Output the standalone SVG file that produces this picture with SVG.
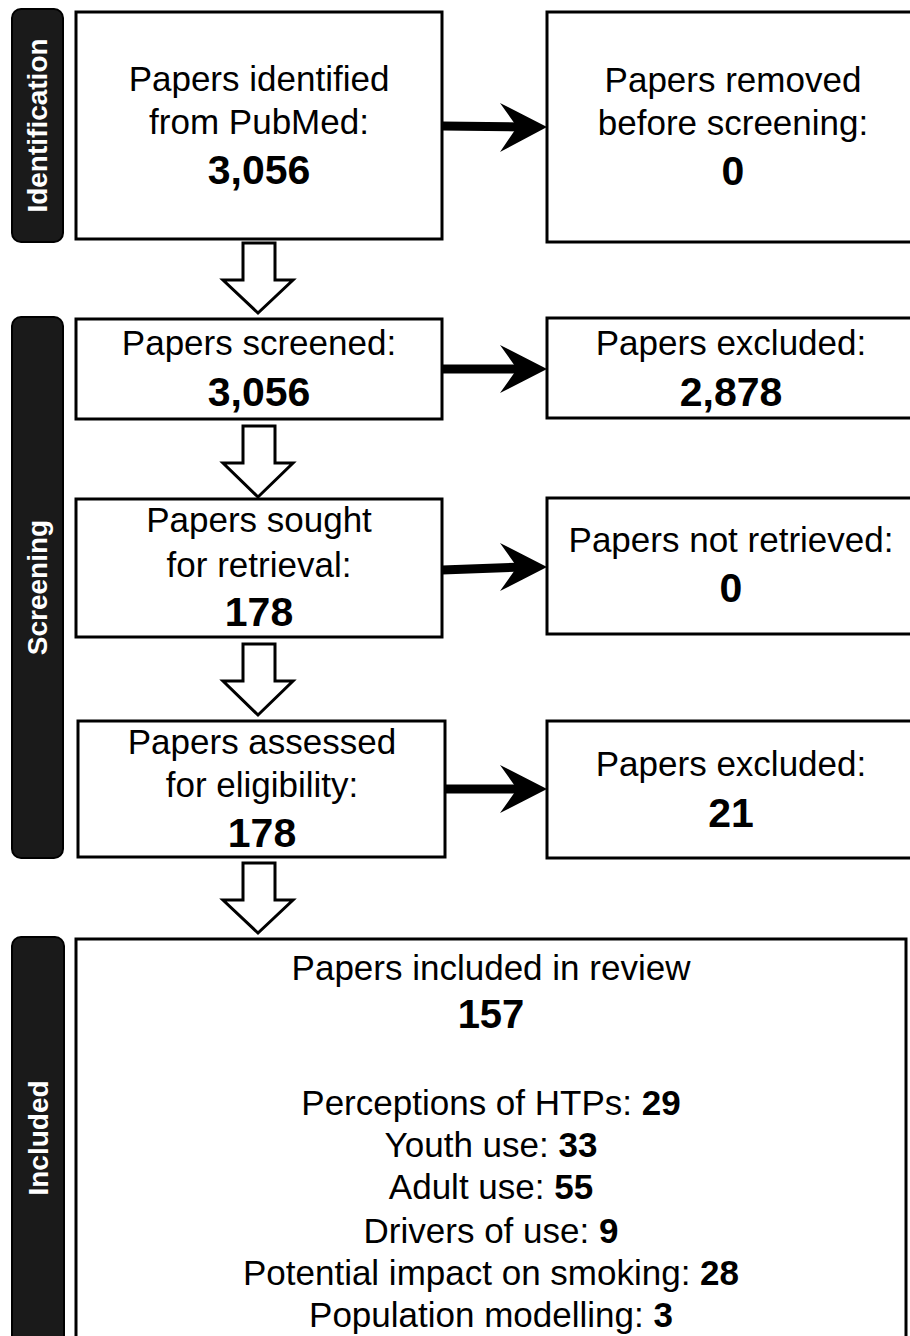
<svg xmlns="http://www.w3.org/2000/svg" width="910" height="1336" viewBox="0 0 910 1336">
<style>
.box{fill:#fff;stroke:#000;stroke-width:3}
.side{fill:#1a1a1a;stroke:#000;stroke-width:2}
.t{font-family:"Liberation Sans",Arial,sans-serif;font-size:35px;fill:#000;text-anchor:middle}
.n{font-family:"Liberation Sans",Arial,sans-serif;font-size:41px;font-weight:bold;fill:#000;text-anchor:middle}
.b{font-weight:bold}
.lab{font-family:"Liberation Sans",Arial,sans-serif;font-size:28px;font-weight:bold;fill:#fff;text-anchor:middle}
.hollow{fill:#fff;stroke:#000;stroke-width:3;stroke-linejoin:miter}
.line{stroke:#000;stroke-width:9;fill:none}
.head{fill:#000}
</style>
<rect width="910" height="1336" fill="#fff"/>
<g id="sidebar-identification">
<rect class="side" x="12" y="9" width="51" height="233" rx="9"/>
<text class="lab" transform="translate(47,125.5) rotate(-90)">Identification</text>
</g>
<g id="sidebar-screening">
<rect class="side" x="12" y="317" width="51" height="541" rx="9"/>
<text class="lab" transform="translate(47,587.5) rotate(-90)">Screening</text>
</g>
<g id="sidebar-included">
<rect class="side" x="12" y="937" width="52" height="420" rx="9"/>
<text class="lab" transform="translate(48,1138) rotate(-90)">Included</text>
</g>
<g id="node-identified">
<rect class="box" x="76" y="12" width="366" height="227"/>
<text class="t" x="259" y="91">Papers identified</text>
<text class="t" x="259" y="134">from PubMed:</text>
<text class="n" x="259" y="184">3,056</text>
</g>
<g id="node-removed">
<rect class="box" x="547" y="12" width="373" height="230"/>
<text class="t" x="733" y="92">Papers removed</text>
<text class="t" x="733" y="135">before screening:</text>
<text class="n" x="733" y="185">0</text>
</g>
<g id="node-screened">
<rect class="box" x="76" y="319" width="366" height="100"/>
<text class="t" x="259" y="355">Papers screened:</text>
<text class="n" x="259" y="406">3,056</text>
</g>
<g id="node-excluded1">
<rect class="box" x="547" y="318" width="373" height="100"/>
<text class="t" x="731" y="355">Papers excluded:</text>
<text class="n" x="731" y="406">2,878</text>
</g>
<g id="node-sought">
<rect class="box" x="76" y="499" width="366" height="138"/>
<text class="t" x="259" y="532">Papers sought</text>
<text class="t" x="259" y="577">for retrieval:</text>
<text class="n" x="259" y="626">178</text>
</g>
<g id="node-notretrieved">
<rect class="box" x="547" y="498" width="373" height="136"/>
<text class="t" x="731" y="552">Papers not retrieved:</text>
<text class="n" x="731" y="602">0</text>
</g>
<g id="node-assessed">
<rect class="box" x="78" y="721" width="367" height="136"/>
<text class="t" x="262" y="754">Papers assessed</text>
<text class="t" x="262" y="797">for eligibility:</text>
<text class="n" x="262" y="847">178</text>
</g>
<g id="node-excluded2">
<rect class="box" x="547" y="721" width="373" height="137"/>
<text class="t" x="731" y="776">Papers excluded:</text>
<text class="n" x="731" y="827">21</text>
</g>
<g id="node-included">
<rect class="box" x="76" y="939" width="830" height="420"/>
<text class="t" x="491" y="980">Papers included in review</text>
<text class="n" x="491" y="1028" style="font-size:40px">157</text>
<text class="t" x="491" y="1115">Perceptions of HTPs: <tspan class="b">29</tspan></text>
<text class="t" x="491" y="1157">Youth use: <tspan class="b">33</tspan></text>
<text class="t" x="491" y="1199">Adult use: <tspan class="b">55</tspan></text>
<text class="t" x="491" y="1243">Drivers of use: <tspan class="b">9</tspan></text>
<text class="t" x="491" y="1285">Potential impact on smoking: <tspan class="b">28</tspan></text>
<text class="t" x="491" y="1327">Population modelling: <tspan class="b">3</tspan></text>
</g>
<g id="connectors">
<path class="hollow" d="M243,243 H275 V280 H293 L258,313 L223,280 H243 Z"/>
<path class="hollow" d="M243,426 H275 V463 H293 L258,497 L223,463 H243 Z"/>
<path class="hollow" d="M243,644 H275 V681 H293 L258,715 L223,681 H243 Z"/>
<path class="hollow" d="M243,863 H275 V900 H293 L258,933 L223,900 H243 Z"/>
<line class="line" x1="442" y1="126" x2="522" y2="127"/>
<path class="head" d="M547,127 L500,103 L517,127 L500,152 Z"/>
<line class="line" x1="442" y1="369" x2="522" y2="369"/>
<path class="head" d="M547,369 L500,345 L517,369 L500,393 Z"/>
<line class="line" x1="442" y1="570" x2="522" y2="567"/>
<path class="head" d="M547,567 L500,543 L517,567 L500,591 Z"/>
<line class="line" x1="445" y1="789" x2="522" y2="789"/>
<path class="head" d="M547,789 L500,765 L517,789 L500,813 Z"/>
</g>
</svg>
